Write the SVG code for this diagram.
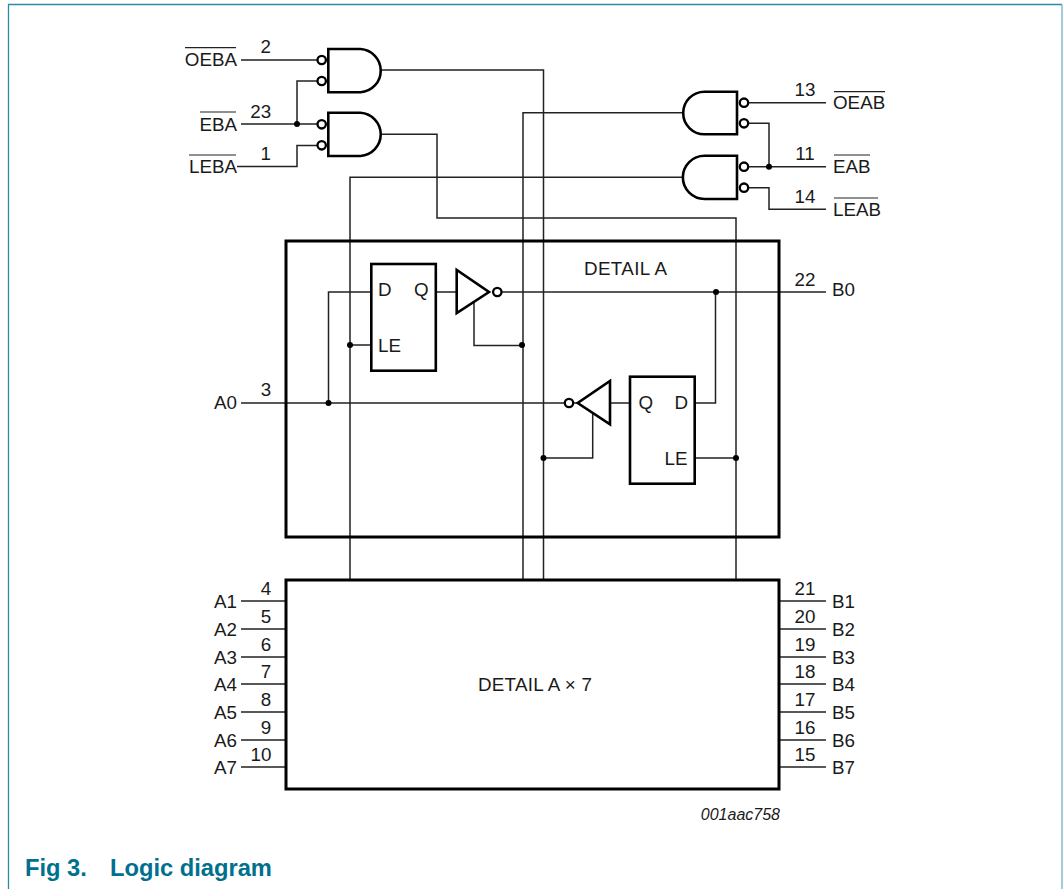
<svg xmlns="http://www.w3.org/2000/svg" width="1063" height="889" viewBox="0 0 1063 889">
<style>
text{font-family:"Liberation Sans",Arial,sans-serif;font-size:18.800px;fill:#1a1a1a}
.m{text-anchor:middle}.e{text-anchor:end}
.w{fill:none;stroke:#222;stroke-width:1.5}
.g{fill:#fff;stroke:#000;stroke-width:2.6;stroke-linejoin:miter}
.b{fill:#fff;stroke:#000;stroke-width:2.3}
.o{fill:none;stroke:#222;stroke-width:1.2}
.d{fill:#000}
.t{font-weight:bold;font-size:23.700px;fill:#00708f}
.i{font-style:italic;font-size:16px}
</style>
<g id="frame"><path d="M8.500 889V4.500H1062" fill="none" stroke="#2a8ba6" stroke-width="1.300"/><path d="M1062 4.500V889" fill="none" stroke="#6cb4c6" stroke-width="1.300"/></g>
<g id="connectors" class="w">
<path d="M241 60H317M241 124H317M237 166.500H297V145.500H317M297 124V81H317"/>
<path d="M826 102.700H749M826 166.700H749M749 123.300H769V166.700M749 187.700H769V209.300H826"/>
<path d="M382 70H543.500V580M382 134.300H437V218H736V580M683 112.700H523V580M683 177.300H350V580"/>
<path d="M241 403H565M328.500 403V292H371M350 345H371M436 292H457M502 292H826M474 303V345.500H523"/>
<path d="M574 403H578M610 403H630M695 403H715.500V292M695 458H736M592.700 414V458H543.500"/>
<path d="M241 601H286M241 629H286M241 657H286M241 684H286M241 712H286M241 740H286M241 767H286"/>
<path d="M779 601H826M779 629H826M779 657H826M779 684H826M779 712H826M779 740H826M779 767H826"/>
<circle class="d" stroke="none" cx="297" cy="124" r="3"/><circle class="d" stroke="none" cx="769" cy="166.700" r="3"/><circle class="d" stroke="none" cx="716" cy="292" r="3"/><circle class="d" stroke="none" cx="350" cy="345" r="3"/><circle class="d" stroke="none" cx="522" cy="345" r="3"/><circle class="d" stroke="none" cx="328.500" cy="403" r="3"/><circle class="d" stroke="none" cx="543.500" cy="458" r="3"/><circle class="d" stroke="none" cx="736" cy="458" r="3"/>
</g>
<g id="gate-oeba"><path class="g" d="M328.300 49H360.500A21.700 21.700 0 0 1 360.500 92.300H328.300Z"/><circle class="b" cx="321.700" cy="60" r="4.200"/><circle class="b" cx="321.700" cy="81" r="4.200"/></g>
<g id="gate-leba"><path class="g" d="M328.300 112.700H360.500A21.700 21.700 0 0 1 360.500 156H328.300Z"/><circle class="b" cx="321.700" cy="124.300" r="4.200"/><circle class="b" cx="321.700" cy="145.300" r="4.200"/></g>
<g id="gate-oeab"><path class="g" d="M737 91.700H704.500A21.300 21.300 0 0 0 704.500 134.300H737Z"/><circle class="b" cx="744" cy="102.700" r="4.200"/><circle class="b" cx="744" cy="123.300" r="4.200"/></g>
<g id="gate-leab"><path class="g" d="M737 155.700H704.500A21.600 21.600 0 0 0 704.500 199H737Z"/><circle class="b" cx="744" cy="166.700" r="4.200"/><circle class="b" cx="744" cy="187.700" r="4.200"/></g>
<g id="detail-a"><rect x="286" y="241" width="493" height="296" fill="none" stroke="#000" stroke-width="3"/><text x="584" y="275" textLength="83">DETAIL A</text></g>
<g id="latch-left"><rect class="g" x="371.300" y="264" width="64.500" height="106.700"/><text x="378" y="296">D</text><text x="414" y="296">Q</text><text x="378" y="352">LE</text></g>
<g id="buffer-left"><path class="g" d="M456.700 270V313L489 292Z"/><circle class="b" cx="497.300" cy="292" r="4.200"/></g>
<g id="buffer-right"><path class="g" d="M610 381V424.300L577.700 403Z"/><circle class="b" cx="569" cy="403" r="4.200"/></g>
<g id="latch-right"><rect class="g" x="630" y="376.700" width="64.700" height="107"/><text x="638.500" y="409">Q</text><text x="674.500" y="409">D</text><text x="664.500" y="465">LE</text></g>
<g id="detail-a-x7"><rect x="286" y="580" width="493" height="209" fill="#fff" stroke="#000" stroke-width="3"/><text x="478" y="691" textLength="114">DETAIL A × 7</text></g>
<g id="labels">
<text x="237" y="66" class="e">OEBA</text><text x="237" y="130.500" class="e">EBA</text><text x="237" y="173" class="e">LEBA</text>
<path class="o" d="M185 47.700H236M200 112H236M189 155H236M834 91.700H885M834 155H870M834 198H878"/>
<text x="265.700" y="53" class="m">2</text><text x="260.700" y="118" class="m">23</text><text x="265.700" y="160" class="m">1</text>
<text x="805" y="96" class="m">13</text><text x="805" y="160" class="m">11</text><text x="805" y="203" class="m">14</text>
<text x="833" y="109">OEAB</text><text x="833" y="173">EAB</text><text x="833" y="215.500">LEAB</text>
<text x="214" y="409">A0</text><text x="266" y="396" class="m">3</text><text x="805" y="286" class="m">22</text><text x="832" y="296">B0</text>
<text x="214" y="607.500">A1</text><text x="214" y="635.500">A2</text><text x="214" y="663.500">A3</text><text x="214" y="690.500">A4</text><text x="214" y="718.500">A5</text><text x="214" y="746.500">A6</text><text x="214" y="773.500">A7</text>
<text x="266" y="595" class="m">4</text><text x="266" y="623" class="m">5</text><text x="266" y="651" class="m">6</text><text x="266" y="678" class="m">7</text><text x="266" y="706" class="m">8</text><text x="266" y="734" class="m">9</text><text x="261" y="761" class="m">10</text>
<text x="805" y="595" class="m">21</text><text x="805" y="623" class="m">20</text><text x="805" y="651" class="m">19</text><text x="805" y="678" class="m">18</text><text x="805" y="706" class="m">17</text><text x="805" y="734" class="m">16</text><text x="805" y="761" class="m">15</text>
<text x="832" y="607.500">B1</text><text x="832" y="635.500">B2</text><text x="832" y="663.500">B3</text><text x="832" y="690.500">B4</text><text x="832" y="718.500">B5</text><text x="832" y="746.500">B6</text><text x="832" y="773.500">B7</text>
<text x="780" y="820" class="e i">001aac758</text>
<text x="25" y="876" class="t">Fig 3.</text><text x="110" y="876" class="t">Logic diagram</text>
</g>
</svg>
